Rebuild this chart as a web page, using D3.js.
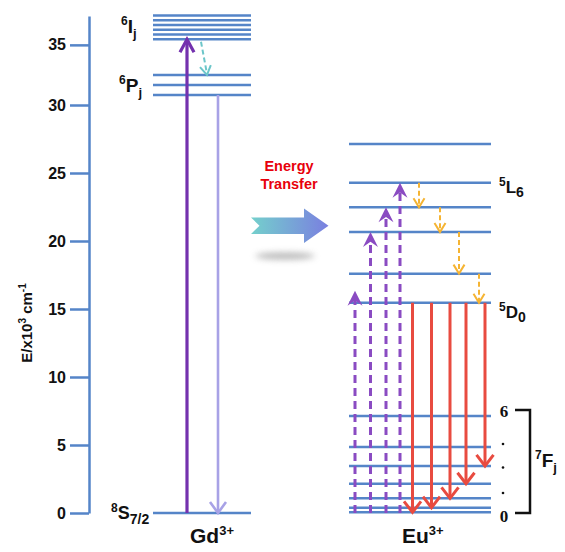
<!DOCTYPE html>
<html>
<head>
<meta charset="utf-8">
<script src="https://cdn.jsdelivr.net/npm/d3@7"></script>
<style>
  body { margin: 0; background: #fff; }
  svg { display: block; font-family: "Liberation Sans", Arial, sans-serif; }
</style>
</head>
<body>
<div id="chart"></div>
<script>
// energies, in 10^3 cm-1
var yTicks = [0, 5, 10, 15, 20, 25, 30, 35];
var gdLevels6I = [35.46, 35.86, 36.26, 36.65, 37.04, 37.44];
var gdLevels6P = [30.83, 31.67, 32.5];
var gdGround = [0];
var euUpper = [27.13, 24.29, 22.48, 20.66, 17.6, 15.46];
var euLower = [7.13, 4.85, 3.46, 2.15, 1.08, 0.39, 0.05];
var euUpTargets = [16.35, 20.66, 22.48, 24.29];       // purple dashed excitation
var euRelax = [[24.29, 22.48], [22.48, 20.66], [20.66, 17.6], [17.6, 15.46]];
var euEmitTargets = [0.05, 0.39, 1.08, 2.15, 3.46];   // 5D0 -> 7F0..7F4
var emitFrom = 15.46;

var width = 565, height = 552;
var lineBlue = "#5585c8";

var svg = d3.select("#chart").append("svg")
  .attr("width", width)
  .attr("height", height);

var defs = svg.append("defs");
var grad = defs.append("linearGradient").attr("id", "etGrad");
grad.append("stop").attr("offset", "0%").attr("stop-color", "#74d0cc");
grad.append("stop").attr("offset", "100%").attr("stop-color", "#7a7fe0");
defs.append("filter").attr("id", "blur")
  .attr("x", "-50%").attr("y", "-200%").attr("width", "200%").attr("height", "500%")
  .append("feGaussianBlur").attr("stdDeviation", 3);

// the axis in the picture is squeezed above 30
var y = d3.scaleLinear().domain([0, 30, 37.4]).range([513, 105, 16]);

// axis
var axis = d3.axisLeft(y).tickValues(yTicks).tickSize(19).tickSizeOuter(0).tickPadding(4);
var gAxis = svg.append("g")
  .attr("transform", "translate(89,0)")
  .call(axis);
gAxis.select(".domain").attr("stroke", lineBlue).attr("stroke-width", 2.5);
gAxis.selectAll(".tick line").attr("stroke", lineBlue).attr("stroke-width", 2.5);
gAxis.selectAll(".tick text")
  .attr("fill", "#111")
  .style("font-size", "16px")
  .style("font-weight", "bold")
  .style("font-family", "'Liberation Sans', Arial, sans-serif");

var yLabel = svg.append("text")
  .attr("transform", "translate(32,323) rotate(-90)")
  .attr("text-anchor", "middle")
  .style("font-size", "15px")
  .style("font-weight", "bold")
  .attr("fill", "#111");
yLabel.append("tspan").text("E/x10");
yLabel.append("tspan").text("3").attr("dy", -6).style("font-size", "10px");
yLabel.append("tspan").text(" cm").attr("dy", 6);
yLabel.append("tspan").text("-1").attr("dy", -6).style("font-size", "10px");

function levels(vals, x1, x2) {
  svg.append("g").selectAll("line")
    .data(vals)
    .enter().append("line")
    .attr("x1", x1).attr("x2", x2)
    .attr("y1", function(d) { return y(d); })
    .attr("y2", function(d) { return y(d); })
    .attr("stroke", lineBlue)
    .attr("stroke-width", 2.5);
}

levels(gdLevels6I, 153, 251);
levels(gdLevels6P, 153, 251);
levels(gdGround, 153, 251);
levels(euUpper, 349, 491);
levels(euLower, 349, 491);

function arrow(x1, e1, x2, e2, opt) {
  var g = svg.append("g");
  var ya = y(e1), yb = y(e2);
  var dir = yb > ya ? 1 : -1;
  g.append("line")
    .attr("x1", x1).attr("y1", ya)
    .attr("x2", x2).attr("y2", yb - dir * (opt.filled ? opt.h * 0.6 : 1))
    .attr("stroke", opt.color)
    .attr("stroke-width", opt.sw)
    .attr("stroke-dasharray", opt.dash || null);
  if (opt.filled) {
    g.append("path")
      .attr("d", "M" + x2 + "," + yb + "L" + (x2 + opt.w) + "," + (yb - dir * opt.h) +
        "L" + x2 + "," + (yb - dir * opt.h * 0.65) + "L" + (x2 - opt.w) + "," + (yb - dir * opt.h) + "Z")
      .attr("fill", opt.color);
  } else {
    // heads follow the line direction
    var ang = Math.atan2(yb - ya, x2 - x1);
    var hx = Math.cos(ang), hy = Math.sin(ang);
    var px = -hy, py = hx;
    g.append("path")
      .attr("d", "M" + (x2 - hx * opt.h + px * opt.w) + "," + (yb - hy * opt.h + py * opt.w) +
        "L" + x2 + "," + yb +
        "L" + (x2 - hx * opt.h - px * opt.w) + "," + (yb - hy * opt.h - py * opt.w))
      .attr("fill", "none")
      .attr("stroke", opt.color)
      .attr("stroke-width", opt.sw);
  }
}

// Gd3+ transitions
arrow(187, 0, 187, gdLevels6I[0], { color: "#7431ae", sw: 3.2, w: 7, h: 13 });
arrow(218, gdLevels6P[0], 218, 0, { color: "#a8a2e6", sw: 2.6, w: 8, h: 11 });
arrow(201, gdLevels6I[0] - 0.2, 207, gdLevels6P[2], { color: "#6cc6c9", sw: 2, w: 5.5, h: 9, dash: "5,3" });

// Eu3+ excitation (purple dashed)
var upX = [355, 370.5, 386, 400];
euUpTargets.forEach(function(e, i) {
  arrow(upX[i], 0, upX[i], e, { color: "#8a4bc2", sw: 3, w: 7.5, h: 15, dash: "8,5", filled: true });
});

// non-radiative relaxation (yellow dashed)
var relaxX = [419, 440, 459, 479];
euRelax.forEach(function(p, i) {
  arrow(relaxX[i], p[0], relaxX[i], p[1], { color: "#f5b433", sw: 2, w: 5.5, h: 9, dash: "5,3" });
});

// emission 5D0 -> 7Fj (red)
var emitX = [412.5, 431.5, 450, 466, 485];
euEmitTargets.forEach(function(e, i) {
  arrow(emitX[i], emitFrom, emitX[i], e, { color: "#e84b40", sw: 3, w: 8.5, h: 11 });
});

// energy transfer arrow
svg.append("ellipse")
  .attr("cx", 285).attr("cy", 256).attr("rx", 30).attr("ry", 3.5)
  .attr("fill", "#9a9a9a").attr("opacity", 0.7)
  .attr("filter", "url(#blur)");
svg.append("path")
  .attr("d", "M251,217.5L304,217.5L304,208.5L328.5,225.7L304,243L304,234L251,234L259.5,225.7Z")
  .attr("fill", "url(#etGrad)");
svg.append("text").attr("x", 289).attr("y", 171).attr("text-anchor", "middle")
  .style("font-size", "14.5px").style("font-weight", "bold").attr("fill", "#e8000b").text("Energy");
svg.append("text").attr("x", 289).attr("y", 189).attr("text-anchor", "middle")
  .style("font-size", "14.5px").style("font-weight", "bold").attr("fill", "#e8000b").text("Transfer");

// term symbol labels: sup, main, sub
function term(x, yy, sup, main, sub, big, supSize, subSize) {
  var t = svg.append("text").attr("x", x).attr("y", yy)
    .attr("fill", "#111").style("font-weight", "bold").style("font-size", big + "px");
  if (sup) t.append("tspan").text(sup).attr("dy", -big * 0.4).style("font-size", supSize + "px");
  t.append("tspan").text(main).attr("dy", sup ? big * 0.4 : 0);
  if (sub) t.append("tspan").text(sub).attr("dy", big * 0.25).style("font-size", subSize + "px");
  return t;
}

term(121, 33, "6", "I", "j", 19, 12, 13);
term(119, 92, "6", "P", "j", 19, 12, 13);
term(111, 519, "8", "S", "7/2", 18, 12, 14);
term(499, 193, "5", "L", "6", 17, 12, 14);
term(499, 318, "5", "D", "0", 17, 12, 14);
term(535, 467, "7", "F", "j", 19, 12, 13);

var gd = svg.append("text").attr("x", 190).attr("y", 543)
  .attr("fill", "#111").style("font-weight", "bold").style("font-size", "21px");
gd.append("tspan").text("Gd");
gd.append("tspan").text("3+").attr("dy", -8).style("font-size", "13px");
var eu = svg.append("text").attr("x", 402).attr("y", 543)
  .attr("fill", "#111").style("font-weight", "bold").style("font-size", "21px");
eu.append("tspan").text("Eu");
eu.append("tspan").text("3+").attr("dy", -8).style("font-size", "13px");

// 7Fj bracket
svg.append("path")
  .attr("d", "M515," + (y(euLower[0]) - 6) + "H530V" + y(0) + "H515")
  .attr("fill", "none").attr("stroke", "#111").attr("stroke-width", 2.5);
svg.append("text").attr("x", 504).attr("y", 417).attr("text-anchor", "middle")
  .style("font-family", "'Liberation Serif', 'Times New Roman', serif")
  .style("font-size", "17px").style("font-weight", "bold").attr("fill", "#111").text("6");
svg.append("text").attr("x", 504).attr("y", 522).attr("text-anchor", "middle")
  .style("font-family", "'Liberation Serif', 'Times New Roman', serif")
  .style("font-size", "17px").style("font-weight", "bold").attr("fill", "#111").text("0");
svg.append("g").selectAll("circle")
  .data([444, 467.5, 493])
  .enter().append("circle")
  .attr("cx", 503).attr("cy", function(d) { return d; }).attr("r", 1.3).attr("fill", "#111");
</script>
</body>
</html>
